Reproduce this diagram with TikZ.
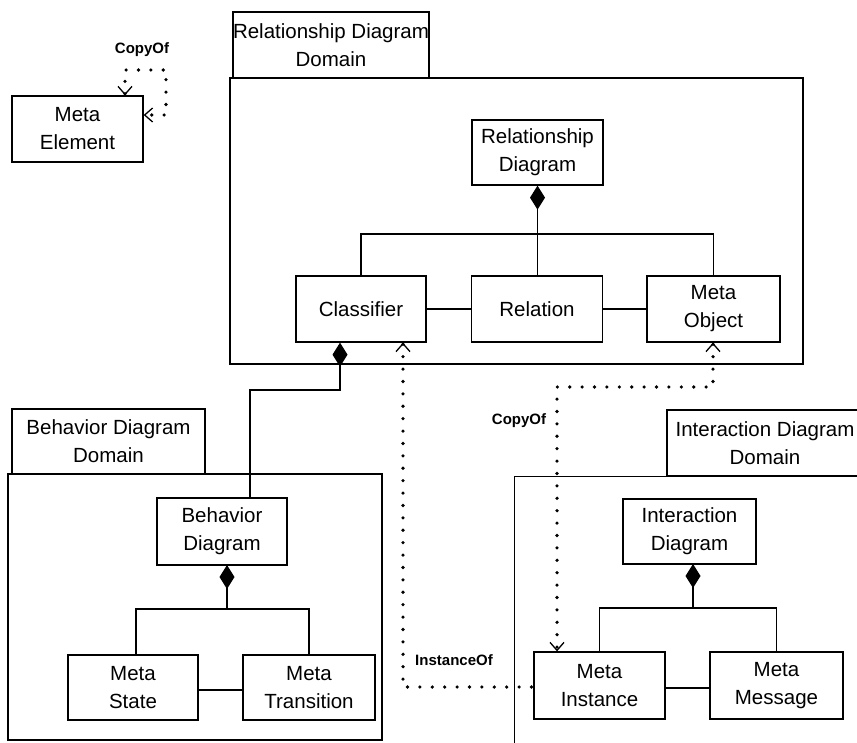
\documentclass[tikz,border=0pt]{standalone}
\usepackage{fontspec}
\setmainfont{Liberation Sans}
\usetikzlibrary{arrows.meta}
\tikzset{
  cls/.style={draw, line width=1.3pt, inner sep=0pt, align=center,
    font=\fontsize{20.5}{28}\selectfont},
  frame/.style={draw, line width=1.3pt, inner sep=0pt},
  conn/.style={line width=1.3pt},
  comp/.style={conn, {Diamond[length=24pt,width=15pt]}-},
  dep/.style={line width=3.6pt, line cap=round, dash pattern=on 0pt off 12.4pt},
  opentip/.tip={Straight Barb[length=8pt,width=14pt,line width=1.3pt]},
  lbl/.style={font=\fontsize{15}{17}\selectfont\bfseries, inner sep=0pt}
}
\begin{document}
\begin{tikzpicture}[x=1pt,y=-1pt]
\useasboundingbox (0,0) rectangle (857,742);
\clip (0,0) rectangle (857,742);
\fill[white] (0,0) rectangle (857,742);

% Meta Element
\node[cls, minimum width=131pt, minimum height=66pt] (me) at (77.5,129) {Meta\\Element};
\coordinate (meA) at (125,70);
\coordinate (meB) at (166,70);
\coordinate (meC) at (166,115);
\draw[dep, opentip-opentip] (me.north -| meA) -- (meA) -- (meB) -- (meC) -- (me.east |- meC);
\node[lbl] (lcopy1) at (142,50) {CopyOf};

% Relationship Diagram Domain
\node[frame, minimum width=573pt, minimum height=286pt] (rdbox) at (516.5,221) {};
\node[cls, minimum width=196pt, minimum height=66pt] (rdtab) at (331,45) {Relationship Diagram\\Domain};
\node[cls, minimum width=131pt, minimum height=65pt] (rd) at (537.5,152.5) {Relationship\\Diagram};
\node[cls, minimum width=130pt, minimum height=66pt] (classifier) at (361,309) {Classifier};
\node[cls, minimum width=131pt, minimum height=66pt] (relation) at (537,309) {Relation};
\node[cls, minimum width=133pt, minimum height=66pt] (mobj) at (713.5,309) {Meta\\Object};
\coordinate (rdbus) at (537.5,234);
\draw[comp] (rd.south) -- (rd.south |- relation.north);
\draw[conn] (classifier.north) |- (rdbus) -| (mobj.north);
\draw[conn] (classifier.east) -- (relation.west);
\draw[conn] (relation.east) -- (mobj.west);

% Behavior Diagram Domain
\node[frame, minimum width=374pt, minimum height=266pt] (bdbox) at (195,607) {};
\node[cls, minimum width=193pt, minimum height=65pt] (bdtab) at (108.5,441.5) {Behavior Diagram\\Domain};
\node[cls, minimum width=130pt, minimum height=67pt] (bd) at (222,531.5) {Behavior\\Diagram};
\node[cls, minimum width=130pt, minimum height=65pt] (mstate) at (133,687.5) {Meta\\State};
\node[cls, minimum width=132pt, minimum height=65pt] (mtrans) at (309,687.5) {Meta\\Transition};
\coordinate (bdtop) at (227,565);
\coordinate (bdbus) at (227,609);
\draw[comp] (bdtop) -- (bdbus);
\draw[conn] (mstate.north -| 136,0) |- (bdbus) -| (mtrans.north);
\draw[conn] (mstate.east |- 0,690) -- (mtrans.west |- 0,690);

% Interaction Diagram Domain
\node[frame, minimum width=386pt, minimum height=324pt, anchor=north west] (idbox) at (514,476) {};
\node[cls, minimum width=196pt, minimum height=66pt] (idtab) at (765,443) {Interaction Diagram\\Domain};
\node[cls, minimum width=133pt, minimum height=65pt] (id) at (689.5,531.5) {Interaction\\Diagram};
\node[cls, minimum width=131pt, minimum height=67pt] (minst) at (599.5,685.5) {Meta\\Instance};
\node[cls, minimum width=133pt, minimum height=67pt] (mmsg) at (776.5,685.5) {Meta\\Message};
\coordinate (idtop) at (693,564);
\coordinate (idbus) at (693,608);
\draw[comp] (idtop) -- (idbus);
\draw[conn] (minst.north) |- (idbus) -| (mmsg.north);
\draw[conn] (minst.east |- 0,688) -- (mmsg.west |- 0,688);

% Classifier composition to Behavior Diagram
\coordinate (cb1) at (340,390);
\coordinate (cb2) at (250,390);
\draw[comp] (classifier.south -| cb1) -- (cb1) -- (cb2) -- (bd.north -| cb2);

% InstanceOf
\coordinate (io1) at (403,687);
\draw[dep, opentip-] (classifier.south -| io1) -- (io1) -- (minst.west |- io1);
\node[lbl] (linst) at (454,660) {InstanceOf};

% CopyOf Meta Object -> Meta Instance
\coordinate (co1) at (713,387);
\coordinate (co2) at (557,387);
\draw[dep, opentip-opentip] (mobj.south -| co1) -- (co1) -- (co2) -- (minst.north -| co2);
\node[lbl] (lcopy2) at (519,421) {CopyOf};
\end{tikzpicture}
\end{document}
